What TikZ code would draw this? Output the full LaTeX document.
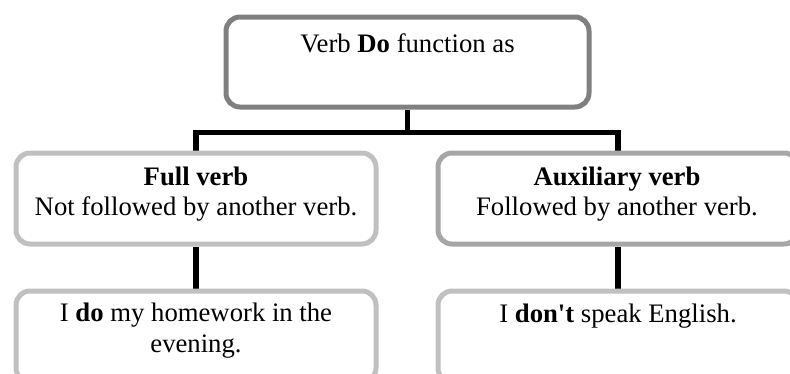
\documentclass[tikz,border=0pt]{standalone}
\usepackage{fontspec}
\setmainfont{Liberation Serif}[Ligatures=TeXOff]
\usetikzlibrary{backgrounds}
\definecolor{topgray}{RGB}{128,128,128}
\definecolor{auxgray}{RGB}{166,166,166}
\definecolor{lightgray}{RGB}{192,192,192}
\tikzset{
  box/.style={draw, rectangle, rounded corners=14pt, line width=5pt, fill=white,
    minimum width=360pt, minimum height=91pt, inner sep=0pt},
  conn/.style={draw=black, line width=5.5pt},
  txt/.style={anchor=base, inner sep=0pt, font=\fontsize{26.7}{31}\selectfont}
}
\begin{document}
\begin{tikzpicture}[x=1pt,y=-1pt]
\useasboundingbox (0,0) rectangle (790,373);
\clip (0,0) rectangle (790,373);
% boxes
\node[box, draw=topgray, minimum width=363pt, minimum height=90pt] (top) at (407.5,62) {};
\node[box, draw=lightgray] (full) at (196,198.5) {};
\node[box, draw=auxgray] (aux) at (618,198.5) {};
\node[box, draw=lightgray] (ex1) at (196,336.5) {};
\node[box, draw=lightgray] (ex2) at (618,336.5) {};
% connectors
\begin{scope}[on background layer]
\coordinate (junc) at ([yshift=-23pt]top.south);
\draw[conn] (top.south) -- (junc);
\draw[conn] ([xshift=-2.75pt]full.north |- junc) -- ([xshift=2.75pt]aux.north |- junc);
\draw[conn] (full.north |- junc) -- (full.north);
\draw[conn] (aux.north |- junc) -- (aux.north);
\draw[conn] (full.south) -- (ex1.north);
\draw[conn] (aux.south) -- (ex2.north);
\end{scope}
% texts
\node[txt] (t0) at (407.5,52) {Verb \textbf{Do} function as};
\node[txt] (t1) at (196,185) {\textbf{Full verb}};
\node[txt] (t2) at (196,215) {Not followed by another verb.};
\node[txt] (t3) at (617,185) {\textbf{Auxiliary verb}};
\node[txt] (t4) at (617,215) {Followed by another verb.};
\node[txt] (t5) at (196,321) {I \textbf{do} my homework in the};
\node[txt] (t6) at (196,352) {evening.};
\node[txt] (t7) at (618,322) {I \textbf{don't} speak English.};
\end{tikzpicture}
\end{document}
